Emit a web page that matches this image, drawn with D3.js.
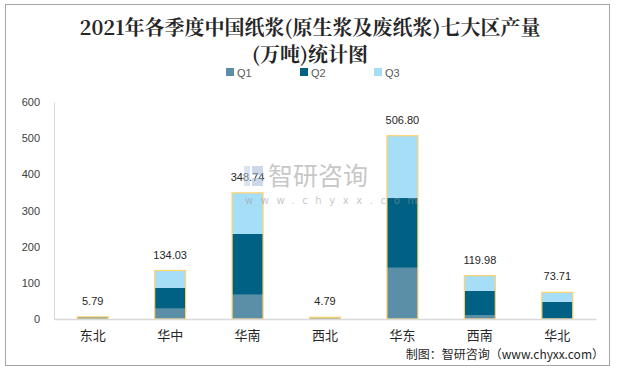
<!DOCTYPE html>
<html>
<head>
<meta charset="utf-8">
<script src="https://cdn.jsdelivr.net/npm/d3@7"></script>
<style>
  body { margin: 0; background: #fff; }
  svg { display: block; }
</style>
</head>
<body>
<div id="chart"></div>
<script>
// data
var regions = ["东北", "华中", "华南", "西北", "华东", "西南", "华北"];
var q1 = [1.2, 28.4, 67.0, 1.0, 141.5, 11.0, 0.5];
var q2 = [3.8, 57.9, 168.0, 3.0, 193.0, 67.0, 47.0];
var q3 = [0.79, 47.73, 113.74, 0.79, 172.3, 41.98, 26.21];
var totals = ["5.79", "134.03", "348.74", "4.79", "506.80", "119.98", "73.71"];
var seriesNames = ["Q1", "Q2", "Q3"];
var yTicks = [0, 100, 200, 300, 400, 500, 600];

var colors = ["#5b8fa8", "#006184", "#a6def8"];

var width = 619, height = 371;
var margin = {top: 102, right: 23, bottom: 52, left: 54};
var plotW = width - margin.left - margin.right,
    plotH = height - margin.top - margin.bottom;

var svg = d3.select("#chart").append("svg")
    .attr("width", width)
    .attr("height", height);

// outer frame
svg.append("rect")
  .attr("x", 5.5).attr("y", 4.5)
  .attr("width", 604).attr("height", 361)
  .attr("fill", "#fff")
  .attr("stroke", "#a6a6a6")
  .attr("stroke-width", 1);

// title
var title = svg.append("text")
  .attr("text-anchor", "middle")
  .style("font-family", "'Noto Serif CJK SC', 'DejaVu Serif', serif")
  .style("font-size", "20px")
  .style("font-weight", "bold")
  .attr("fill", "#262626");
title.append("tspan").attr("x", 310).attr("y", 35)
  .text("2021年各季度中国纸浆(原生浆及废纸浆)七大区产量");
title.append("tspan").attr("x", 310).attr("y", 62)
  .text("(万吨)统计图");

// legend
var legend = svg.append("g");
seriesNames.forEach(function(name, i) {
  var lx = 226 + i * 74;
  legend.append("rect")
    .attr("x", lx).attr("y", 68)
    .attr("width", 8).attr("height", 8)
    .attr("fill", colors[i]);
  legend.append("text")
    .attr("x", lx + 11).attr("y", 76.5)
    .style("font-family", "'Liberation Sans', Arial, sans-serif")
    .style("font-size", "11px")
    .attr("fill", "#595959")
    .text(name);
});

var g = svg.append("g")
  .attr("transform", "translate(" + margin.left + "," + margin.top + ")");

var x = d3.scaleBand()
  .domain(regions)
  .range([0, plotW])
  .paddingInner(0.6)
  .paddingOuter(0.3);

var y = d3.scaleLinear()
  .domain([0, 600])
  .range([plotH, 0]);

// watermark
var wm = svg.append("g").attr("opacity", 0.55);
wm.append("rect").attr("x", 244).attr("y", 166).attr("width", 6).attr("height", 20).attr("fill", "#b9cfe6");
wm.append("rect").attr("x", 252).attr("y", 166).attr("width", 11).attr("height", 9).attr("fill", "#9fb9d6");
wm.append("rect").attr("x", 252).attr("y", 178).attr("width", 11).attr("height", 8).attr("fill", "#9fb9d6");
wm.append("text")
  .attr("x", 268).attr("y", 185)
  .style("font-family", "'Noto Sans CJK SC', sans-serif")
  .style("font-size", "25px")
  .attr("fill", "#9a9a9a")
  .text("智研咨询");
wm.append("text")
  .attr("x", 245).attr("y", 204)
  .style("font-family", "'DejaVu Sans', sans-serif")
  .style("font-size", "10px")
  .style("letter-spacing", "7.6px")
  .attr("fill", "#9a9a9a")
  .text("www.chyxx.com");

// y axis
var yAxis = g.append("g")
  .call(d3.axisLeft(y).tickValues(yTicks).tickSize(0).tickPadding(14));
yAxis.select(".domain").attr("stroke", "#d9d9d9");
yAxis.selectAll("text")
  .style("font-family", "'Liberation Sans', Arial, sans-serif")
  .style("font-size", "11px")
  .attr("fill", "#404040");

// stacked bars
var stackData = regions.map(function(r, i) {
  return {region: r, Q1: q1[i], Q2: q2[i], Q3: q3[i], total: totals[i]};
});
var stack = d3.stack().keys(seriesNames)(stackData);

g.selectAll(".series")
  .data(stack)
  .enter().append("g")
    .attr("fill", function(d, i) { return colors[i]; })
  .selectAll("rect")
  .data(function(d) { return d; })
  .enter().append("rect")
    .attr("x", function(d) { return x(d.data.region); })
    .attr("y", function(d) { return y(d[1]); })
    .attr("width", x.bandwidth())
    .attr("height", function(d) { return y(d[0]) - y(d[1]); });

// yellow outline round each stack
g.selectAll(".outline")
  .data(stackData)
  .enter().append("rect")
    .attr("x", function(d) { return x(d.region); })
    .attr("y", function(d) { return y(d.Q1 + d.Q2 + d.Q3); })
    .attr("width", x.bandwidth())
    .attr("height", function(d) { return plotH - y(d.Q1 + d.Q2 + d.Q3); })
    .attr("fill", "none")
    .attr("stroke", "#ffd36b")
    .attr("stroke-width", 1.2);

// x axis
var xAxis = g.append("g")
  .attr("transform", "translate(0," + plotH + ")")
  .call(d3.axisBottom(x).tickSize(0).tickPadding(12));
xAxis.select(".domain").attr("stroke", "#d9d9d9").attr("stroke-width", 1.5);
xAxis.selectAll("text")
  .style("font-family", "'Noto Sans CJK SC', sans-serif")
  .style("font-size", "13px")
  .attr("fill", "#262626");

// totals above bars
g.selectAll(".total")
  .data(stackData)
  .enter().append("text")
    .attr("x", function(d) { return x(d.region) + x.bandwidth() / 2; })
    .attr("y", function(d) { return y(d.Q1 + d.Q2 + d.Q3) - 12; })
    .attr("text-anchor", "middle")
    .style("font-family", "'Liberation Sans', Arial, sans-serif")
    .style("font-size", "11px")
    .attr("fill", "#262626")
    .text(function(d) { return d.total; });

// source
svg.append("text")
  .attr("x", 604).attr("y", 359)
  .attr("text-anchor", "end")
  .style("font-family", "'Noto Sans CJK SC', sans-serif")
  .style("font-size", "12px")
  .attr("fill", "#262626")
  .text("制图：智研咨询（www.chyxx.com）");
</script>
</body>
</html>
